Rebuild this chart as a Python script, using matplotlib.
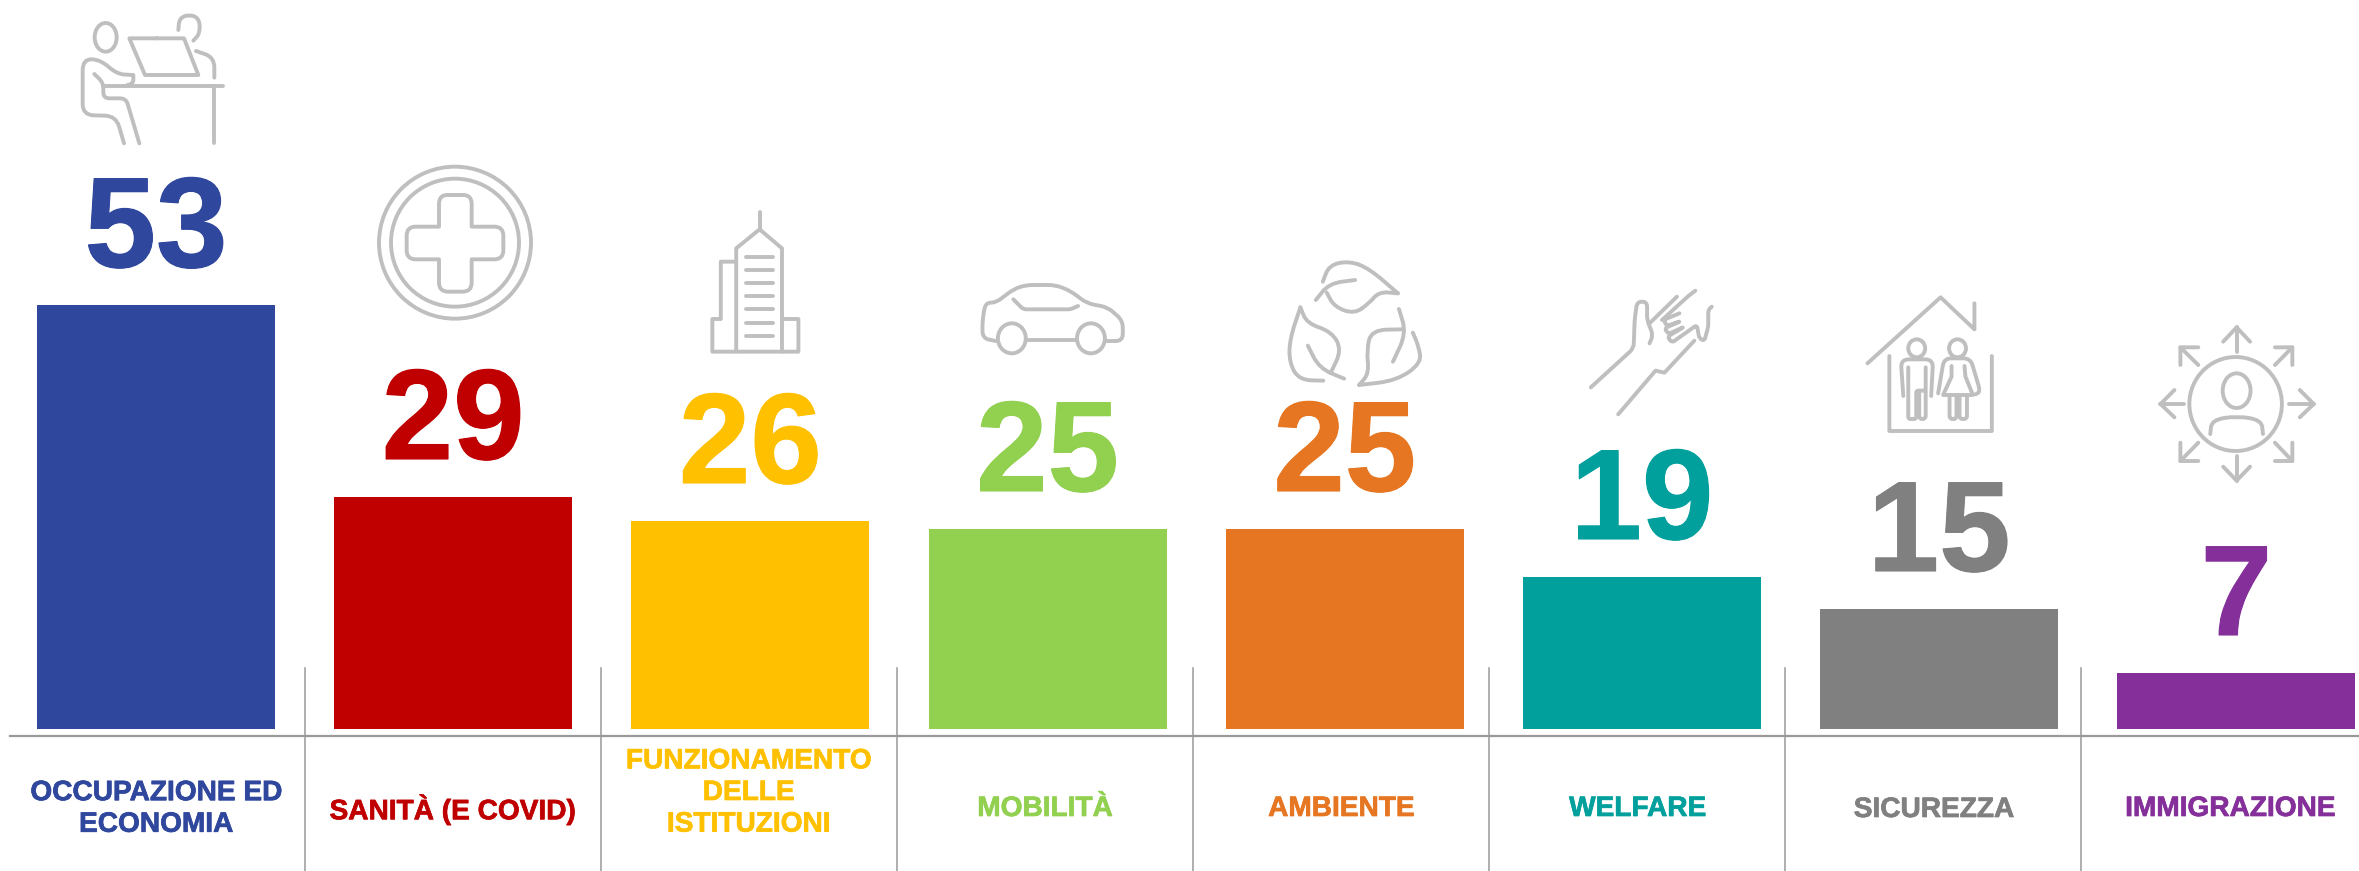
import numpy as np
import matplotlib
matplotlib.use('Agg')
import matplotlib.pyplot as plt
import matplotlib.patheffects as pe
from matplotlib.path import Path
from matplotlib.patches import PathPatch, Ellipse

plt.rcParams['font.family'] = ['Liberation Sans', 'DejaVu Sans']

categorie = ['OCCUPAZIONE ED\nECONOMIA', 'SANITÀ (E COVID)', 'FUNZIONAMENTO\nDELLE\nISTITUZIONI',
             'MOBILITÀ', 'AMBIENTE', 'WELFARE', 'SICUREZZA', 'IMMIGRAZIONE']
valori = [53, 29, 26, 25, 25, 19, 15, 7]
colori = ['#2F479C', '#C00000', '#FFC000', '#92D050', '#E67621', '#02A09D', '#808080', '#85309A']

W, H = 2359, 871
GRIGIO = '#BFBFBF'
LW = 2.8
PASSO = 297.2

fig = plt.figure(figsize=(W / 100, H / 100), dpi=100)
ax = fig.add_axes([0, 0, 1, 1])
# un'unita' = PASSO px in x, 8 px in y
ax.set_xlim((0 - 156) / PASSO, (W - 156) / PASSO)
ax.set_ylim((729 - H) / 8, 729 / 8)
ax.axis('off')

x = np.arange(len(valori))
ax.bar(x, valori, width=238 / PASSO, color=colori, linewidth=0)

for i, v in enumerate(valori):
    ax.text(i, v + 38 / 8, str(v), color=colori[i], fontsize=92.5, fontweight='bold',
            ha='center', va='baseline',
            path_effects=[pe.withStroke(linewidth=0.8, foreground=colori[i])])

# overlay in pixel per assi, separatori e icone
px = fig.add_axes([0, 0, 1, 1])
px.set_xlim(0, W)
px.set_ylim(H, 0)
px.axis('off')
px.patch.set_alpha(0)

px.plot([10, W], [736, 736], color='#999999', lw=1.6)
for i in range(1, 8):
    xs = 305 + (i - 1) * 296
    px.plot([xs, xs], [668, H], color='#999999', lw=1.1)

y_etichette = [809, 810, 793, 809, 809, 809, 810, 809]
for i, c in enumerate(categorie):
    xc = 156 + i * 296.3
    px.text(xc, y_etichette[i], c, color=colori[i], fontsize=20.2, fontweight='bold',
            ha='center', va='center', linespacing=1.28,
            path_effects=[pe.withStroke(linewidth=0.5, foreground=colori[i])])


def trazo(pts, ox, oy, sx, sy, r=0, chiuso=False):
    p = [np.array([ox + a / sx, oy + b / sy]) for a, b in pts]
    if chiuso:
        m = (p[0] + p[1]) / 2
        p = [m] + p[1:] + [p[0], m]
    verts = [p[0]]
    codes = [Path.MOVETO]
    for k in range(1, len(p) - 1):
        rk = r[k - 1] if isinstance(r, list) else r
        a, b, c = p[k - 1], p[k], p[k + 1]
        l1 = np.linalg.norm(b - a)
        l2 = np.linalg.norm(c - b)
        r1 = min(rk, l1 / 2)
        r2 = min(rk, l2 / 2)
        verts += [b - (b - a) / l1 * r1, b, b + (c - b) / l2 * r2]
        codes += [Path.LINETO, Path.CURVE3, Path.CURVE3]
    verts.append(p[-1])
    codes.append(Path.LINETO)
    px.add_patch(PathPatch(Path(verts, codes), fill=False, ec=GRIGIO, lw=LW,
                           capstyle='round', joinstyle='round'))


def ovale(cx, cy, rx, ry, ox, oy, sx, sy):
    px.add_patch(Ellipse((ox + cx / sx, oy + cy / sy), 2 * rx / sx, 2 * ry / sy,
                         fill=False, ec=GRIGIO, lw=LW))


# --- scrivania
o1 = (40, 0, 3, 3)
ovale(197, 112, 33, 43, *o1)
trazo([(415, 90), (418, 55), (447, 43), (478, 55), (480, 100), (460, 122)], *o1, r=99)
trazo([(268, 115), (432, 115), (475, 225), (315, 225)], *o1, chiuso=True)
trazo([(468, 153), (523, 172), (523, 233)], *o1, r=12)
trazo([(190, 258), (550, 258)], *o1)
trazo([(523, 258), (523, 428)], *o1)
trazo([(275, 225), (230, 222), (180, 178), (128, 178), (128, 345), (228, 348), (252, 430)], *o1, r=11)
trazo([(163, 222), (190, 248), (190, 295), (258, 295), (298, 430)], *o1, r=6)
trazo([(255, 258), (280, 250), (280, 225)], *o1, r=4)

# --- croce
ovale(1245, 728, 228, 228, *o1)
ovale(1245, 728, 192, 192, *o1)
trazo([(1197, 585), (1295, 585), (1295, 680), (1390, 680), (1390, 778), (1295, 778), (1295, 875),
       (1197, 875), (1197, 778), (1100, 778), (1100, 680), (1197, 680)], *o1,
      r=[9, 0, 9, 9, 0, 9, 9, 0, 9, 9, 0, 9], chiuso=True)

# --- palazzo
o2 = (680, 190, 2.01, 3)
trazo([(160, 65), (160, 118)], *o2)
trazo([(113, 485), (113, 175), (160, 118), (205, 175), (205, 485)], *o2)
trazo([(113, 215), (82, 215), (82, 387), (65, 387), (65, 485), (238, 485), (238, 387), (205, 387)], *o2)
for yp in [200, 240, 280, 319, 358, 398, 437]:
    trazo([(133, yp), (187, yp)], *o2)

# --- auto
trazo([(635, 453), (608, 445), (608, 390), (614, 338), (635, 338), (670, 298), (695, 285), (755, 285),
       (785, 303), (818, 340), (860, 352), (890, 392), (890, 453), (855, 453)], *o2, r=7)
trazo([(697, 450), (798, 450)], *o2)
ovale(667, 445, 28, 45, *o2)
ovale(826, 445, 28, 45, *o2)
trazo([(670, 328), (690, 358), (785, 358), (800, 348)], *o2, r=3)

# --- foglie
trazo([(1292, 275), (1305, 225), (1345, 213), (1385, 235), (1443, 310)], *o2, r=99)
trazo([(1443, 310), (1405, 305), (1385, 340), (1355, 372), (1315, 350), (1300, 308)], *o2, r=99)
trazo([(1278, 330), (1305, 280), (1357, 270)], *o2, r=99)
trazo([(1247, 352), (1225, 450), (1225, 520), (1245, 570), (1293, 572)], *o2, r=99)
trazo([(1247, 352), (1260, 400), (1310, 425), (1330, 480), (1308, 548)], *o2, r=99)
trazo([(1262, 467), (1285, 535), (1335, 566)], *o2, r=99)
trazo([(1445, 357), (1460, 430), (1433, 515)], *o2, r=99)
trazo([(1450, 418), (1390, 420), (1380, 480), (1385, 550), (1365, 585)], *o2, r=99)
trazo([(1365, 585), (1440, 572), (1490, 520), (1485, 470), (1473, 428)], *o2, r=99)

# --- mani
o3 = (1560, 270, 2.01, 3)
trazo([(62, 352), (148, 235), (150, 150), (155, 95), (175, 95), (175, 150), (187, 195), (180, 220)], *o3, r=5)
trazo([(180, 160), (235, 80)], *o3)
trazo([(205, 150), (258, 78), (272, 62)], *o3)
trazo([(240, 130), (208, 150), (215, 168), (243, 153), (210, 175), (218, 192), (250, 170), (216, 200),
       (225, 218), (275, 165), (280, 205), (290, 213), (298, 170), (298, 120), (305, 110)], *o3, r=3)
trazo([(117, 433), (192, 302), (210, 308), (270, 212)], *o3)

# --- casa
trazo([(618, 280), (765, 82), (833, 178), (833, 100)], *o3)
trazo([(662, 258), (662, 483), (868, 483), (868, 258)], *o3)
ovale(717, 235, 17, 27, *o3)
ovale(799, 235, 17, 27, *o3)
trazo([(690, 378), (685, 268), (750, 268), (746, 378)], *o3, r=8)
trazo([(700, 292), (700, 447), (716, 447), (716, 362), (735, 362), (735, 292)], *o3, r=2)
trazo([(722, 362), (722, 447), (735, 447), (735, 362)], *o3, r=3)
trazo([(760, 370), (772, 265), (825, 265), (845, 365), (835, 373)], *o3, r=7)
trazo([(787, 288), (787, 320), (770, 375), (830, 375), (815, 320), (813, 288)], *o3)
trazo([(783, 375), (783, 447), (797, 447), (797, 375)], *o3, r=3)
trazo([(803, 375), (803, 447), (818, 447), (818, 375)], *o3, r=3)

# --- persona con frecce
ovale(1358, 402, 93, 141, *o3)
ovale(1360, 362, 28, 52, *o3)
trazo([(1307, 492), (1310, 450), (1360, 438), (1410, 450), (1413, 492)], *o3, r=14)
trazo([(1360, 245), (1360, 172)], *o3)
trazo([(1333, 215), (1360, 172), (1387, 215)], *o3)
trazo([(1360, 558), (1360, 632)], *o3)
trazo([(1333, 590), (1360, 632), (1387, 590)], *o3)
trazo([(1255, 402), (1207, 402)], *o3)
trazo([(1235, 360), (1207, 402), (1235, 442)], *o3)
trazo([(1465, 402), (1515, 402)], *o3)
trazo([(1487, 360), (1515, 402), (1487, 442)], *o3)
trazo([(1283, 232), (1247, 232), (1247, 285)], *o3)
trazo([(1247, 232), (1283, 285)], *o3)
trazo([(1437, 232), (1472, 232), (1472, 285)], *o3)
trazo([(1472, 232), (1437, 285)], *o3)
trazo([(1283, 573), (1247, 573), (1247, 518)], *o3)
trazo([(1247, 573), (1283, 518)], *o3)
trazo([(1437, 573), (1472, 573), (1472, 518)], *o3)
trazo([(1472, 573), (1437, 518)], *o3)

fig.savefig('out.png', dpi=100, facecolor='white')
